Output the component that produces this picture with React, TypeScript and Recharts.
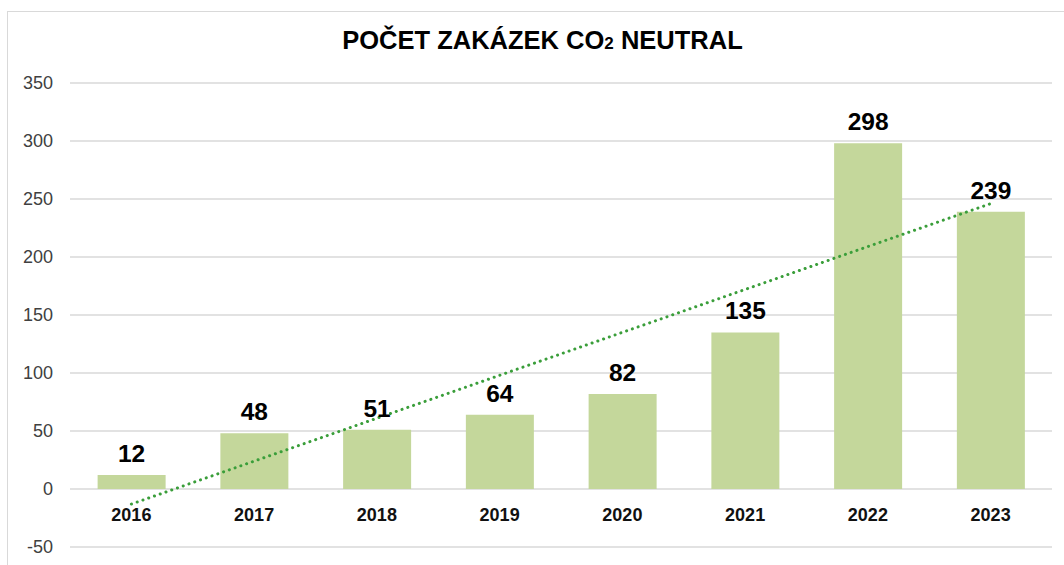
import { Bar, CartesianGrid, ComposedChart, LabelList, Line, XAxis, YAxis } from 'recharts'

const years = ['2016', '2017', '2018', '2019', '2020', '2021', '2022', '2023']
const orders = [12, 48, 51, 64, 82, 135, 298, 239]
// linear trendline, only its two ends
const trend = [-13, null, null, null, null, null, null, 246]
const yTicks = [-50, 0, 50, 100, 150, 200, 250, 300, 350]

const data = years.map((year, i) => ({ year, orders: orders[i], trend: trend[i] }))

const font = '"Liberation Sans", Arial, sans-serif'

function YearTick(props: any) {
  const { x, y, payload } = props
  return (
    <text x={x} y={y} dy={-34} textAnchor="middle" fontFamily={font} fontSize={18} fontWeight="bold" fill="#111">
      {payload.value}
    </text>
  )
}

export default function App() {
  return (
    <div style={{ position: 'fixed', left: 0, top: 0, width: 1064, height: 565, background: '#fff' }}>
      <div
        style={{
          position: 'absolute',
          left: 7,
          top: 11,
          right: 0,
          bottom: 0,
          borderLeft: '1px solid #d9d9d9',
          borderTop: '1px solid #d9d9d9',
        }}
      />
      <div
        style={{
          position: 'absolute',
          left: 0,
          top: 26,
          width: 1085,
          textAlign: 'center',
          fontFamily: font,
          fontWeight: 'bold',
          fontSize: 25.5,
          color: '#000',
        }}
      >
        POČET ZAKÁZEK CO<span style={{ fontSize: 17 }}>2</span> NEUTRAL
      </div>
      <div style={{ position: 'absolute', left: 0, top: 0 }}>
        <ComposedChart
          width={1064}
          height={565}
          data={data}
          margin={{ top: 83, right: 12, bottom: 0, left: 10 }}
          barCategoryGap="22.5%"
        >
          <CartesianGrid vertical={false} stroke="#d9d9d9" strokeWidth={1.3} />
          <XAxis dataKey="year" axisLine={false} tickLine={false} height={18} tick={<YearTick />} interval={0} />
          <YAxis
            domain={[-50, 350]}
            ticks={yTicks}
            axisLine={false}
            tickLine={false}
            width={60}
            tickMargin={11}
            tick={{ fontFamily: font, fontSize: 18, fill: '#404040' }}
          />
          <Bar dataKey="orders" fill="#c4d79b" isAnimationActive={false}>
            <LabelList
              dataKey="orders"
              position="top"
              offset={13}
              style={{ fontFamily: font, fontSize: 24.5, fontWeight: 'bold', fill: '#000' }}
            />
          </Bar>
          <Line
            dataKey="trend"
            connectNulls
            dot={false}
            activeDot={false}
            stroke="#3a9e3a"
            strokeWidth={3}
            strokeDasharray="0.1 6"
            strokeLinecap="round"
            isAnimationActive={false}
          />
        </ComposedChart>
      </div>
    </div>
  )
}
